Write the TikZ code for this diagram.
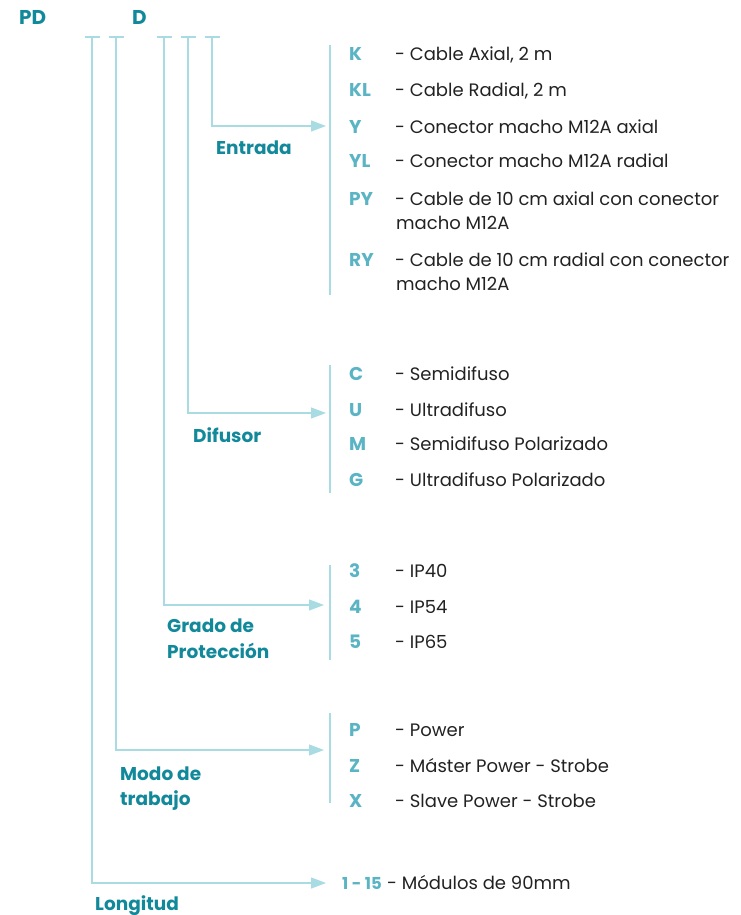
\documentclass[tikz,border=0pt]{standalone}
\usepackage{fontspec}
\setmainfont{Poppins}
\usetikzlibrary{arrows.meta}
\definecolor{labcol}{HTML}{12899A}
\definecolor{codecol}{HTML}{5AB4C4}
\definecolor{lncol}{HTML}{A9DBE3}
\definecolor{txtcol}{HTML}{222222}
\tikzset{
  ln/.style={draw=lncol, line width=1.2pt},
  arr/.style={ln, -{Triangle[length=15pt,width=11pt]}},
  code/.style={anchor=base west, inner sep=0pt, text=codecol, font=\fontsize{18.5}{20}\selectfont\bfseries},
  desc/.style={anchor=base west, inner sep=0pt, text=txtcol, font=\fontsize{18}{20}\selectfont},
  lab/.style={anchor=base west, inner sep=0pt, text=labcol, font=\fontsize{18.5}{20}\selectfont\bfseries},
}
\begin{document}
\begin{tikzpicture}[x=1pt,y=-1pt]
\useasboundingbox (0,0) rectangle (740,915);
% header
\node[lab, font=\fontsize{20}{22}\selectfont\bfseries] (pd) at (19,25) {PD};
\node[lab, font=\fontsize{20}{22}\selectfont\bfseries] (d) at (132,25) {D};
% ticks
\foreach \n/\x in {t1/92,t2/116,t3/164,t4/188,t5/212}{
  \coordinate (\n) at (\x,37);
  \draw[ln] ([xshift=-7.5pt]\n) -- ([xshift=7.5pt]\n);
}
% brackets
\coordinate (b1a) at (330,45);  \coordinate (b1b) at (330,295);
\coordinate (b2a) at (330,365); \coordinate (b2b) at (330,493);
\coordinate (b3a) at (330,565); \coordinate (b3b) at (330,660);
\coordinate (b4a) at (330,713); \coordinate (b4b) at (330,803);
\draw[ln] (b1a) -- (b1b);
\draw[ln] (b2a) -- (b2b);
\draw[ln] (b3a) -- (b3b);
\draw[ln] (b4a) -- (b4b);
% arrow targets
\coordinate (e1) at (326,126);
\coordinate (e2) at (326,413);
\coordinate (e3) at (324,605);
\coordinate (e4) at (324,750);
\coordinate (e5) at (326,883);
\draw[arr] (t5) |- (e1);
\draw[arr] (t4) |- (e2);
\draw[arr] (t3) |- (e3);
\draw[arr] (t2) |- (e4);
\draw[arr] (t1) |- (e5);
% labels
\node[lab] (entrada) at (216,154) {Entrada};
\node[lab] (difusor) at (193,442) {Difusor};
\node[lab] (grado) at (167,632) {Grado de};
\node[lab] (prot) at (167,658) {Protección};
\node[lab] (modo) at (120,780) {Modo de};
\node[lab] (trab) at (120,805) {trabajo};
\node[lab] (long) at (95,910) {Longitud};
% group 1
\node[code] (cK) at (349,61) {K};   \node[desc] (dK) at (395,61) {- Cable Axial, 2 m};
\node[code] (cKL) at (349,97) {KL}; \node[desc] (dKL) at (395,97) {- Cable Radial, 2 m};
\node[code] (cY) at (349,133) {Y};  \node[desc] (dY) at (395,133) {- Conector macho M12A axial};
\node[code] (cYL) at (349,167) {YL};\node[desc] (dYL) at (395,167) {- Conector macho M12A radial};
\node[code] (cPY) at (349,205) {PY};\node[desc] (dPY) at (395,205) {- Cable de 10 cm axial con conector};
\node[desc] (dPY2) at (396,229) {macho M12A};
\node[code] (cRY) at (349,266) {RY};\node[desc] (dRY) at (395,266) {- Cable de 10 cm radial con conector};
\node[desc] (dRY2) at (396,290) {macho M12A};
% group 2
\node[code] (cC) at (349,380) {C}; \node[desc] (dC) at (395,380) {- Semidifuso};
\node[code] (cU) at (349,416) {U}; \node[desc] (dU) at (395,416) {- Ultradifuso};
\node[code] (cM) at (349,450) {M}; \node[desc] (dM) at (395,450) {- Semidifuso Polarizado};
\node[code] (cG) at (349,486) {G}; \node[desc] (dG) at (395,486) {- Ultradifuso Polarizado};
% group 3
\node[code] (c3) at (349,577) {3}; \node[desc] (d3) at (395,577) {- IP40};
\node[code] (c4) at (349,613) {4}; \node[desc] (d4) at (395,613) {- IP54};
\node[code] (c5) at (349,648) {5}; \node[desc] (d5) at (395,648) {- IP65};
% group 4
\node[code] (cP) at (349,736) {P}; \node[desc] (dP) at (395,736) {- Power};
\node[code] (cZ) at (349,772) {Z}; \node[desc] (dZ) at (395,772) {- Máster Power - Strobe};
\node[code] (cX) at (349,807) {X}; \node[desc] (dX) at (395,807) {- Slave Power - Strobe};
% longitud
\node[code, font=\fontsize{16.5}{18}\selectfont\bfseries] (c115) at (342,889) {1 - 15};
\node[desc] (d115) at (387,889) {- Módulos de 90mm};
\end{tikzpicture}
\end{document}
